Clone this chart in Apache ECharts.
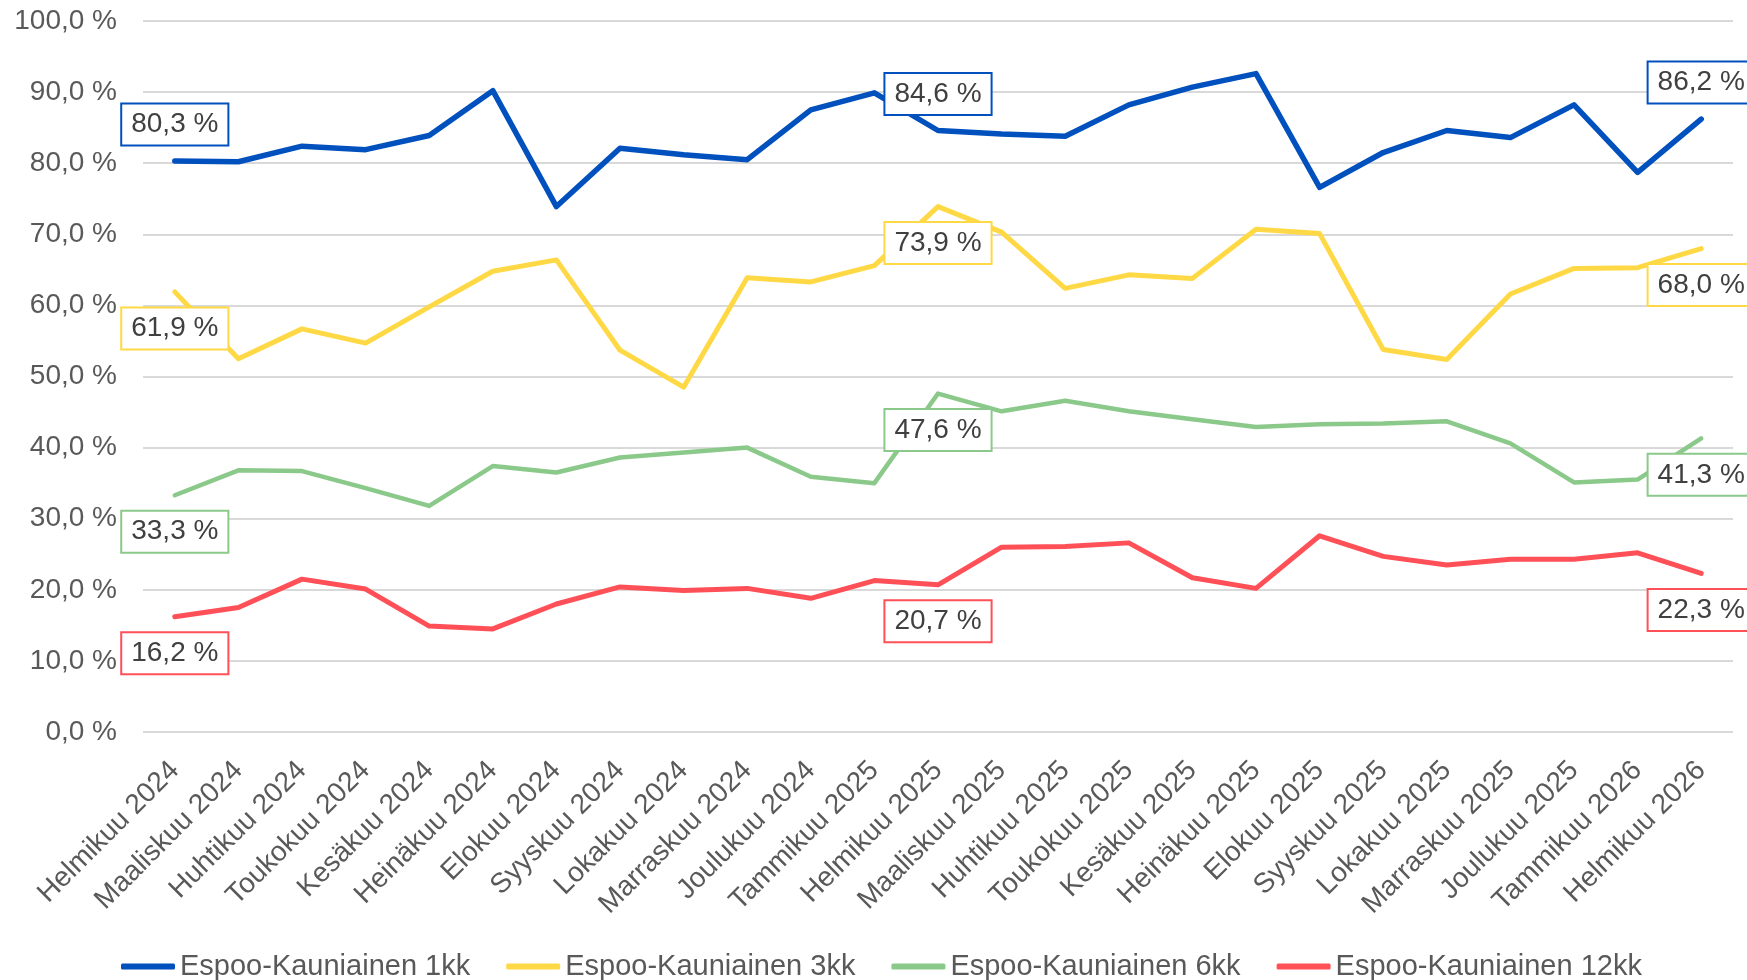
<!DOCTYPE html>
<html lang="fi">
<head>
    <meta charset="UTF-8">
    <title>Espoo-Kauniainen</title>
    <style>
        html, body { margin: 0; padding: 0; background: #fff; }
        #chart { width: 1747px; height: 980px; }
    </style>
    <script src="https://cdn.jsdelivr.net/npm/echarts@6/dist/echarts.min.js"></script>
</head>
<body>
<div id="chart"></div>
<script>
    // kuukaudet
    var months = ['Helmikuu 2024', 'Maaliskuu 2024', 'Huhtikuu 2024', 'Toukokuu 2024', 'Kesäkuu 2024',
        'Heinäkuu 2024', 'Elokuu 2024', 'Syyskuu 2024', 'Lokakuu 2024', 'Marraskuu 2024', 'Joulukuu 2024',
        'Tammikuu 2025', 'Helmikuu 2025', 'Maaliskuu 2025', 'Huhtikuu 2025', 'Toukokuu 2025', 'Kesäkuu 2025',
        'Heinäkuu 2025', 'Elokuu 2025', 'Syyskuu 2025', 'Lokakuu 2025', 'Marraskuu 2025', 'Joulukuu 2025',
        'Tammikuu 2026', 'Helmikuu 2026'];

    var kk1 = [80.3, 80.2, 82.4, 81.9, 83.9, 90.2, 73.9, 82.1, 81.2, 80.5, 87.5, 89.9, 84.6,
        84.1, 83.8, 88.2, 90.7, 92.6, 76.6, 81.5, 84.6, 83.6, 88.2, 78.7, 86.2];
    var kk3 = [61.9, 52.5, 56.7, 54.7, 59.8, 64.8, 66.4, 53.7, 48.5, 63.9, 63.3, 65.6, 73.9,
        70.3, 62.4, 64.3, 63.8, 70.7, 70.1, 53.8, 52.4, 61.6, 65.2, 65.3, 68.0];
    var kk6 = [33.3, 36.8, 36.7, 34.3, 31.8, 37.4, 36.5, 38.6, 39.3, 40.0, 35.9, 35.0, 47.6,
        45.1, 46.6, 45.1, 44.0, 42.9, 43.3, 43.4, 43.7, 40.6, 35.1, 35.5, 41.3];
    var kk12 = [16.2, 17.5, 21.5, 20.1, 14.9, 14.5, 18.0, 20.4, 19.9, 20.2, 18.8, 21.3, 20.7,
        26.0, 26.1, 26.6, 21.7, 20.2, 27.6, 24.7, 23.5, 24.3, 24.3, 25.2, 22.3];

    var labelIdx = [0, 12, 24];
    var FONT = 'Liberation Sans, Arial, sans-serif';

    function pct(v) {
        return v.toFixed(1).replace('.', ',') + ' %';
    }

    // arvot + näkyvät labelit vain tietyissä kohdissa
    function withLabels(arr, color, pos) {
        return arr.map(function (v, i) {
            if (labelIdx.indexOf(i) < 0) return v;
            return {
                value: v,
                label: {
                    show: true,
                    position: pos,
                    distance: 16,
                    formatter: function (p) { return pct(p.value); },
                    color: '#404040',
                    fontFamily: FONT,
                    fontSize: 28,
                    lineHeight: 28,
                    backgroundColor: '#fff',
                    borderColor: color,
                    borderWidth: 2,
                    padding: [6, 9]
                }
            };
        });
    }

    function line(name, arr, color, width, pos) {
        return {
            name: name,
            type: 'line',
            data: withLabels(arr, color, pos),
            symbol: 'circle',
            symbolSize: 1,
            showAllSymbol: true,
            itemStyle: { color: color },
            lineStyle: { color: color, width: width, join: 'round', cap: 'round' },
            emphasis: { disabled: true },
            animation: false
        };
    }

    var chart = echarts.init(document.getElementById('chart'));
    var option = {
        backgroundColor: '#fff',
        grid: { left: 143, right: 14, top: 21, bottom: 248, containLabel: false },
        legend: {
            left: 116,
            top: 947,
            icon: 'roundRect',
            itemWidth: 54,
            itemHeight: 6,
            itemGap: 36,
            textStyle: { color: '#595959', fontSize: 29, fontFamily: FONT },
            data: ['Espoo-Kauniainen 1kk', 'Espoo-Kauniainen 3kk', 'Espoo-Kauniainen 6kk', 'Espoo-Kauniainen 12kk']
        },
        xAxis: {
            type: 'category',
            data: months,
            boundaryGap: true,
            axisLine: { show: false },
            axisTick: { show: false },
            axisLabel: {
                interval: 0,
                rotate: 45,
                margin: 34,
                color: '#595959',
                fontSize: 28,
                fontFamily: FONT
            }
        },
        yAxis: {
            type: 'value',
            min: 0,
            max: 100,
            interval: 10,
            axisLine: { show: false },
            axisTick: { show: false },
            splitLine: { lineStyle: { color: '#d9d9d9', width: 2 } },
            axisLabel: {
                margin: 26,
                color: '#595959',
                fontSize: 28,
                fontFamily: FONT,
                formatter: function (v) { return pct(v); }
            }
        },
        series: [
            line('Espoo-Kauniainen 1kk', kk1, '#0050be', 5.5, 'top'),
            line('Espoo-Kauniainen 3kk', kk3, '#ffd945', 5, 'bottom'),
            line('Espoo-Kauniainen 6kk', kk6, '#8bc98a', 4.5, 'bottom'),
            line('Espoo-Kauniainen 12kk', kk12, '#ff5058', 5, 'bottom')
        ]
    };
    chart.setOption(option);
</script>
</body>
</html>
